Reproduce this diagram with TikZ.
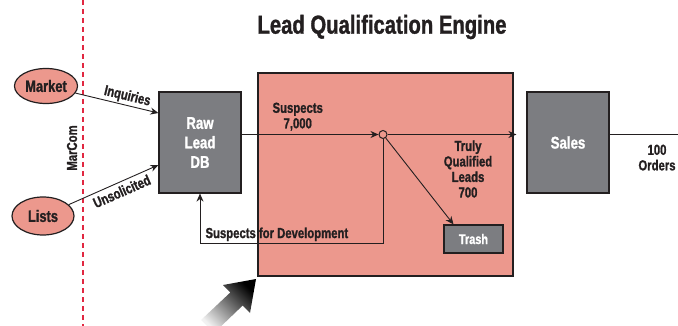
\documentclass[tikz,border=0pt]{standalone}
\usepackage{fontspec}
\setmainfont{Liberation Sans Bold}[FakeStretch=0.78,FakeBold=1.2]
\usetikzlibrary{positioning,arrows.meta,shapes.geometric}
\definecolor{salmon}{RGB}{236,152,141}
\definecolor{boxgray}{RGB}{124,125,129}
\definecolor{inkdark}{RGB}{35,31,32}
\definecolor{marcomred}{RGB}{225,40,65}

\begin{document}
\begin{tikzpicture}[x=1pt,y=-1pt,
        every node/.style={font=\fontsize{14.5}{15.5}\selectfont,text=inkdark},
        blk/.style={draw=inkdark,line width=1.2pt,fill=boxgray,text=white,align=center,inner sep=0pt,
                    font=\fontsize{17}{19.5}\selectfont},
        src/.style={ellipse,draw=inkdark,line width=1.2pt,fill=salmon,inner sep=0pt,
                    font=\fontsize{16.5}{18}\selectfont},
        flow/.style={line width=0.9pt,draw=inkdark,-{Stealth[length=8pt,width=7pt]}},
        lbl/.style={align=center,inner sep=1.5pt}]
    \useasboundingbox (0,0) rectangle (678,326);

    % title and MarCom border
    \node (title) at (382,27) {\fontsize{26}{28}\selectfont Lead Qualification Engine};
    \draw[marcomred,line width=1.2pt,dash pattern=on 5pt off 4pt] (83,0) -- (83,326);
    \node[rotate=90] (marcom) at (72,148) {MarCom};

    % sources
    \node[src,minimum width=63,minimum height=35] (market) at (46,86) {Market};
    \node[src,minimum width=62,minimum height=38] (lists) at (43,216) {Lists};

    % engine and boxes
    \node[draw=inkdark,line width=1.2pt,fill=salmon,minimum width=255,minimum height=203,inner sep=0pt] (engine) at (385.5,174.5) {};
    \node[blk,minimum width=82,minimum height=101] (rawdb) at (200,142.5) {Raw\\Lead\\DB};
    \node[blk,minimum width=82,minimum height=101] (sales) at (568,142.5) {Sales};
    \node[blk,minimum width=59,minimum height=28,font=\fontsize{14}{15}\selectfont] (trash) at (473.5,239) {Trash};
    \node[circle,draw=inkdark,line width=1pt,fill=salmon,minimum size=8,inner sep=0pt] (split) at (383,134.5) {};
    \coordinate (devcorner) at (383,243);
    \coordinate (out) at (678,134.5);

    % connectors
    \draw[flow] (market) -- node[lbl,sloped,above,pos=0.6] {Inquiries} ([yshift=29.5pt]rawdb.west);
    \draw[flow] (lists) -- node[lbl,sloped,below=2pt,pos=0.55] {Unsolicited} ([yshift=-22.5pt]rawdb.west);
    \draw[flow] ([yshift=8pt]rawdb.east) -- node[lbl,above=2pt,pos=0.41] {Suspects\\7,000} (split);
    \draw[flow,shorten >=10pt] (split) -- ([yshift=8pt]sales.west);
    \draw[flow] (split) -- ([xshift=-20pt]trash.north);
    \draw[flow] (split) -- (devcorner) -| node[lbl,above,pos=0.29] {Suspects for Development} (rawdb.south);
    \draw[line width=0.9pt,draw=inkdark] ([yshift=8pt]sales.east) -- (out);

    \node[lbl] (qualified) at (468,169) {Truly\\Qualified\\Leads\\700};
    \node[lbl,anchor=north] (orders) at (657,143) {100\\Orders};

    % pointer arrow
    \shade[top color=black,bottom color=black!5,shading angle=-45]
        (256,279) -- (223,285) -- (230.3,292.5) -- (201,320) -- (214,333)
        -- (242.7,305.5) -- (250,313) -- cycle;
\end{tikzpicture}
\end{document}
